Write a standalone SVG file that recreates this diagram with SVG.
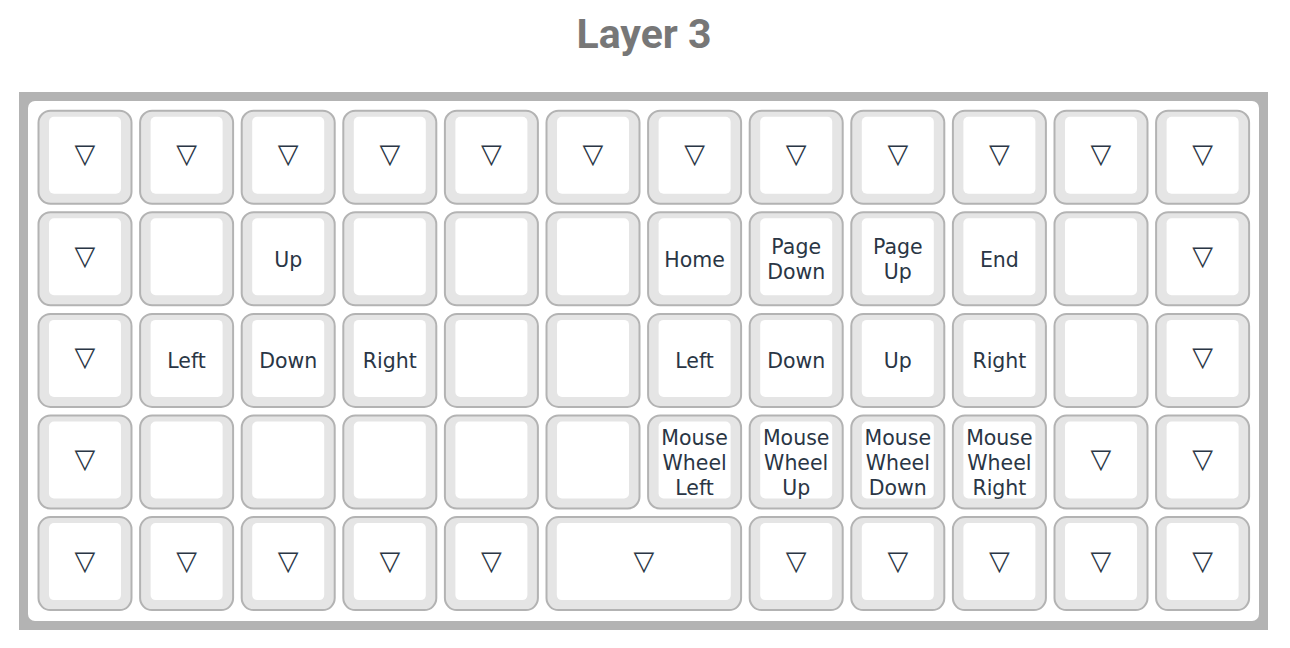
<svg xmlns="http://www.w3.org/2000/svg" width="1290" height="648" viewBox="0 0 1290 648">
<style>
.title{font-family:Roboto,"Liberation Sans",sans-serif;font-weight:bold;font-size:41px;fill:#777777;text-anchor:middle}
.side{fill:#e5e5e5;stroke:#b3b3b3;stroke-width:2}
.inner{fill:#ffffff}
.lbl{font-family:"DejaVu Sans",sans-serif;font-size:20.5px;fill:#2a3645;text-anchor:middle;dominant-baseline:central}
.tri{font-family:"DejaVu Sans",sans-serif;font-size:27px;fill:#2a3645;text-anchor:middle;dominant-baseline:central}
</style>
<defs>
<g id="key"><rect class="side" x="0" y="0" width="93" height="93" rx="12"/><rect class="inner" x="10.5" y="6" width="72" height="77" rx="5"/></g>
<g id="wkey"><rect class="side" x="0" y="0" width="194.6" height="93" rx="12"/><rect class="inner" x="10.3" y="6" width="174" height="77" rx="5"/></g>
</defs>
<rect width="1290" height="648" fill="#ffffff"/>
<text class="title" x="644" y="48">Layer 3</text>
<rect x="19" y="92" width="1249" height="538" fill="#b3b3b3"/>
<rect x="28" y="101" width="1231" height="520" rx="7" fill="#ffffff"/>
<g id="keys">
<!-- row 0 -->
<g id="k0_0" transform="translate(38.5,110.7)"><use href="#key"/><text class="tri" x="46.5" y="43">▽</text></g>
<g id="k0_1" transform="translate(140.1,110.7)"><use href="#key"/><text class="tri" x="46.5" y="43">▽</text></g>
<g id="k0_2" transform="translate(241.7,110.7)"><use href="#key"/><text class="tri" x="46.5" y="43">▽</text></g>
<g id="k0_3" transform="translate(343.3,110.7)"><use href="#key"/><text class="tri" x="46.5" y="43">▽</text></g>
<g id="k0_4" transform="translate(444.9,110.7)"><use href="#key"/><text class="tri" x="46.5" y="43">▽</text></g>
<g id="k0_5" transform="translate(546.5,110.7)"><use href="#key"/><text class="tri" x="46.5" y="43">▽</text></g>
<g id="k0_6" transform="translate(648.1,110.7)"><use href="#key"/><text class="tri" x="46.5" y="43">▽</text></g>
<g id="k0_7" transform="translate(749.7,110.7)"><use href="#key"/><text class="tri" x="46.5" y="43">▽</text></g>
<g id="k0_8" transform="translate(851.3,110.7)"><use href="#key"/><text class="tri" x="46.5" y="43">▽</text></g>
<g id="k0_9" transform="translate(952.9,110.7)"><use href="#key"/><text class="tri" x="46.5" y="43">▽</text></g>
<g id="k0_10" transform="translate(1054.5,110.7)"><use href="#key"/><text class="tri" x="46.5" y="43">▽</text></g>
<g id="k0_11" transform="translate(1156.1,110.7)"><use href="#key"/><text class="tri" x="46.5" y="43">▽</text></g>
<!-- row 1 -->
<g id="k1_0" transform="translate(38.5,212.3)"><use href="#key"/><text class="tri" x="46.5" y="43">▽</text></g>
<g id="k1_1" transform="translate(140.1,212.3)"><use href="#key"/></g>
<g id="k1_2" transform="translate(241.7,212.3)"><use href="#key"/><text class="lbl" x="46.5" y="47.5">Up</text></g>
<g id="k1_3" transform="translate(343.3,212.3)"><use href="#key"/></g>
<g id="k1_4" transform="translate(444.9,212.3)"><use href="#key"/></g>
<g id="k1_5" transform="translate(546.5,212.3)"><use href="#key"/></g>
<g id="k1_6" transform="translate(648.1,212.3)"><use href="#key"/><text class="lbl" x="46.5" y="47.5">Home</text></g>
<g id="k1_7" transform="translate(749.7,212.3)"><use href="#key"/><text class="lbl" x="46.5" y="34.5"><tspan x="46.5">Page</tspan><tspan x="46.5" dy="25">Down</tspan></text></g>
<g id="k1_8" transform="translate(851.3,212.3)"><use href="#key"/><text class="lbl" x="46.5" y="34.5"><tspan x="46.5">Page</tspan><tspan x="46.5" dy="25">Up</tspan></text></g>
<g id="k1_9" transform="translate(952.9,212.3)"><use href="#key"/><text class="lbl" x="46.5" y="47.5">End</text></g>
<g id="k1_10" transform="translate(1054.5,212.3)"><use href="#key"/></g>
<g id="k1_11" transform="translate(1156.1,212.3)"><use href="#key"/><text class="tri" x="46.5" y="43">▽</text></g>
<!-- row 2 -->
<g id="k2_0" transform="translate(38.5,313.9)"><use href="#key"/><text class="tri" x="46.5" y="43">▽</text></g>
<g id="k2_1" transform="translate(140.1,313.9)"><use href="#key"/><text class="lbl" x="46.5" y="47">Left</text></g>
<g id="k2_2" transform="translate(241.7,313.9)"><use href="#key"/><text class="lbl" x="46.5" y="47">Down</text></g>
<g id="k2_3" transform="translate(343.3,313.9)"><use href="#key"/><text class="lbl" x="46.5" y="47">Right</text></g>
<g id="k2_4" transform="translate(444.9,313.9)"><use href="#key"/></g>
<g id="k2_5" transform="translate(546.5,313.9)"><use href="#key"/></g>
<g id="k2_6" transform="translate(648.1,313.9)"><use href="#key"/><text class="lbl" x="46.5" y="47">Left</text></g>
<g id="k2_7" transform="translate(749.7,313.9)"><use href="#key"/><text class="lbl" x="46.5" y="47">Down</text></g>
<g id="k2_8" transform="translate(851.3,313.9)"><use href="#key"/><text class="lbl" x="46.5" y="47">Up</text></g>
<g id="k2_9" transform="translate(952.9,313.9)"><use href="#key"/><text class="lbl" x="46.5" y="47">Right</text></g>
<g id="k2_10" transform="translate(1054.5,313.9)"><use href="#key"/></g>
<g id="k2_11" transform="translate(1156.1,313.9)"><use href="#key"/><text class="tri" x="46.5" y="43">▽</text></g>
<!-- row 3 -->
<g id="k3_0" transform="translate(38.5,415.5)"><use href="#key"/><text class="tri" x="46.5" y="43">▽</text></g>
<g id="k3_1" transform="translate(140.1,415.5)"><use href="#key"/></g>
<g id="k3_2" transform="translate(241.7,415.5)"><use href="#key"/></g>
<g id="k3_3" transform="translate(343.3,415.5)"><use href="#key"/></g>
<g id="k3_4" transform="translate(444.9,415.5)"><use href="#key"/></g>
<g id="k3_5" transform="translate(546.5,415.5)"><use href="#key"/></g>
<g id="k3_6" transform="translate(648.1,415.5)"><use href="#key"/><text class="lbl" x="46.5" y="22.5"><tspan x="46.5">Mouse</tspan><tspan x="46.5" dy="25">Wheel</tspan><tspan x="46.5" dy="25">Left</tspan></text></g>
<g id="k3_7" transform="translate(749.7,415.5)"><use href="#key"/><text class="lbl" x="46.5" y="22.5"><tspan x="46.5">Mouse</tspan><tspan x="46.5" dy="25">Wheel</tspan><tspan x="46.5" dy="25">Up</tspan></text></g>
<g id="k3_8" transform="translate(851.3,415.5)"><use href="#key"/><text class="lbl" x="46.5" y="22.5"><tspan x="46.5">Mouse</tspan><tspan x="46.5" dy="25">Wheel</tspan><tspan x="46.5" dy="25">Down</tspan></text></g>
<g id="k3_9" transform="translate(952.9,415.5)"><use href="#key"/><text class="lbl" x="46.5" y="22.5"><tspan x="46.5">Mouse</tspan><tspan x="46.5" dy="25">Wheel</tspan><tspan x="46.5" dy="25">Right</tspan></text></g>
<g id="k3_10" transform="translate(1054.5,415.5)"><use href="#key"/><text class="tri" x="46.5" y="43">▽</text></g>
<g id="k3_11" transform="translate(1156.1,415.5)"><use href="#key"/><text class="tri" x="46.5" y="43">▽</text></g>
<!-- row 4 -->
<g id="k4_0" transform="translate(38.5,517.1)"><use href="#key"/><text class="tri" x="46.5" y="43">▽</text></g>
<g id="k4_1" transform="translate(140.1,517.1)"><use href="#key"/><text class="tri" x="46.5" y="43">▽</text></g>
<g id="k4_2" transform="translate(241.7,517.1)"><use href="#key"/><text class="tri" x="46.5" y="43">▽</text></g>
<g id="k4_3" transform="translate(343.3,517.1)"><use href="#key"/><text class="tri" x="46.5" y="43">▽</text></g>
<g id="k4_4" transform="translate(444.9,517.1)"><use href="#key"/><text class="tri" x="46.5" y="43">▽</text></g>
<g id="k4_5" transform="translate(546.5,517.1)"><use href="#wkey"/><text class="tri" x="97.3" y="43">▽</text></g>
<g id="k4_7" transform="translate(749.7,517.1)"><use href="#key"/><text class="tri" x="46.5" y="43">▽</text></g>
<g id="k4_8" transform="translate(851.3,517.1)"><use href="#key"/><text class="tri" x="46.5" y="43">▽</text></g>
<g id="k4_9" transform="translate(952.9,517.1)"><use href="#key"/><text class="tri" x="46.5" y="43">▽</text></g>
<g id="k4_10" transform="translate(1054.5,517.1)"><use href="#key"/><text class="tri" x="46.5" y="43">▽</text></g>
<g id="k4_11" transform="translate(1156.1,517.1)"><use href="#key"/><text class="tri" x="46.5" y="43">▽</text></g>
</g>
<g id="connectors"/>
</svg>
